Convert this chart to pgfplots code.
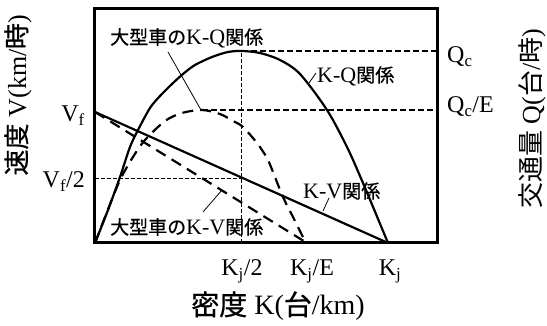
\documentclass[border=0pt]{standalone}
\usepackage{pgfplots}
\pgfplotsset{compat=1.18}
\usepackage{fontspec}
\setmainfont{Liberation Serif}
\newfontfamily\jp{Noto Sans CJK JP}
\newfontfamily\jpm[FakeBold=0.7]{Noto Sans CJK JP}
\newcommand{\inl}{\fontsize{19}{19}\selectfont}
\newcommand{\inlat}[1]{{\fontsize{22}{22}\selectfont #1}}
\newcommand{\tik}{\fontsize{24}{24}\selectfont}
\newcommand{\lab}{\fontsize{26}{26}\selectfont}
\newcommand{\labx}{\fontsize{28}{28}\selectfont}
\begin{document}
\begin{tikzpicture}
\begin{axis}[
  x=1pt, y=1pt,
  anchor=origin, at={(0pt,0pt)},
  xmin=0, xmax=342, ymin=0, ymax=234,
  axis line style={line width=3pt},
  ticks=none, clip=false,
]
% reference lines
\addplot[black, line width=1.4pt, dash pattern=on 6pt off 3pt] coordinates {(147,192) (342,192)};
\addplot[black, line width=1.4pt, dash pattern=on 6pt off 3pt] coordinates {(107,133) (342,133)};
\addplot[black, line width=0.8pt, dash pattern=on 4pt off 2pt] coordinates {(0,65) (146,65)};
\addplot[black, line width=0.8pt, dash pattern=on 4pt off 2pt] coordinates {(146,0) (146,192)};
% K-Q relation (solid)
\addplot[black, line width=2.2pt, smooth, tension=0.5] coordinates {
(0,0) (13,33) (25,66) (35,96) (43,113) (55,135) (65,147) (77,159) (88,169) (100,178) (117,186) (133,191) (147,192) (165,190) (185,183) (205,169) (232,133) (252,96) (268,60) (293,0)};
% large vehicle K-Q (dashed)
\addplot[black, line width=2.2pt, dash pattern=on 11pt off 7pt, smooth, tension=0.5] coordinates {
(0,0) (12,31) (25,63) (38,86) (50,103) (70,122) (87,130) (107,133) (125,129) (140,121) (148,116) (162,100) (172,85) (178,71) (188,46) (198,26) (208,6) (212,0)};
% K-V relations
\addplot[black, line width=2.2pt] coordinates {(0,131) (293,0)};
\addplot[black, line width=2.2pt, dash pattern=on 11pt off 7pt] coordinates {(0,131) (212,0)};
% leaders
\addplot[black, line width=0.8pt] coordinates {(73,191) (106,133)};
\addplot[black, line width=0.8pt] coordinates {(108,31) (127,53)};
\addplot[black, line width=0.8pt] coordinates {(214,160) (221,170)};
\addplot[black, line width=0.8pt] coordinates {(228,32) (234,45)};
% inner labels
\node[anchor=west, inner sep=0pt] at (axis cs:15,205) {\inl{\jpm 大型車の}\inlat{K-Q}{\jpm 関係}};
\node[anchor=west, inner sep=0pt] at (axis cs:15,16) {\inl{\jpm 大型車の}\inlat{K-V}{\jpm 関係}};
\node[anchor=west, inner sep=0pt] at (axis cs:222,167) {\inl\inlat{K-Q}{\jpm 関係}};
\node[anchor=west, inner sep=0pt] at (axis cs:208,52) {\inl\inlat{K-V}{\jpm 関係}};
% tick labels
\node[anchor=base east, inner sep=0pt] at (axis cs:-10,121) {\tik V\textsubscript{f}};
\node[anchor=base east, inner sep=0pt] at (axis cs:-10,55) {\tik V\textsubscript{f}/2};
\node[anchor=base west, inner sep=0pt] at (axis cs:352,180) {\tik Q\textsubscript{c}};
\node[anchor=base west, inner sep=0pt] at (axis cs:352,130) {\tik Q\textsubscript{c}/E};
\node[anchor=base, inner sep=0pt] at (axis cs:147,-33) {\tik K\textsubscript{j}/2};
\node[anchor=base, inner sep=0pt] at (axis cs:217,-33) {\tik K\textsubscript{j}/E};
\node[anchor=base, inner sep=0pt] at (axis cs:295,-33) {\tik K\textsubscript{j}};
% axis labels
\node[anchor=base, inner sep=0pt] at (axis cs:183,-72) {\labx{\jpm 密度} K({\jpm 台}/km)};
\node[rotate=90, inner sep=0pt] at (axis cs:-77,148) {\lab{\jpm 速度} V(km/{\jpm 時})};
\node[rotate=90, inner sep=0pt] at (axis cs:437,124) {\lab{\jp 交通量} Q({\jp 台}/{\jp 時})};
\end{axis}
\pgfresetboundingbox
\useasboundingbox (-95pt,-83pt) rectangle (452pt,243pt);
\end{tikzpicture}
\end{document}
